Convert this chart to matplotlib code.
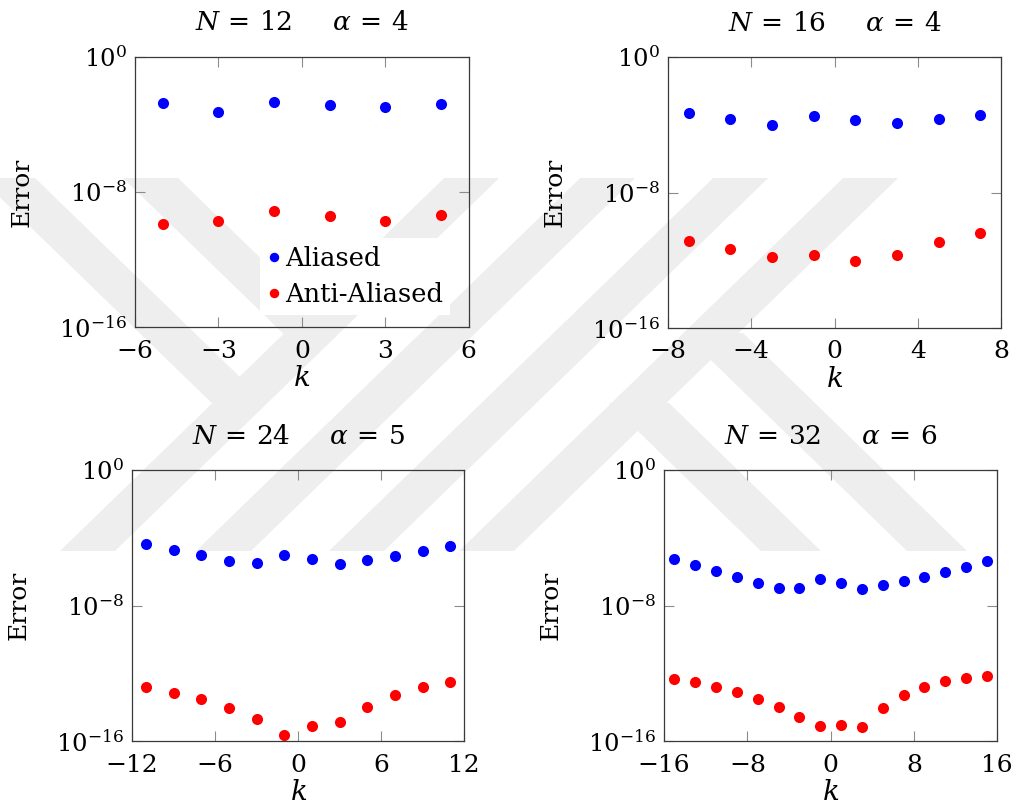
import matplotlib
matplotlib.use("Agg")
import matplotlib.pyplot as plt
from matplotlib.patches import Polygon
from matplotlib.ticker import LogFormatterSciNotation, NullLocator

# ---------------- data ----------------
k12 = [-5, -3, -1, 1, 3, 5]
alias12 = [1.9e-3, 5.1e-4, 2.2e-3, 1.4e-3, 1.1e-3, 1.7e-3]
anti12 = [1.2e-10, 1.9e-10, 7.9e-10, 4.0e-10, 1.9e-10, 4.2e-10]

k16 = [-7, -5, -3, -1, 1, 3, 5, 7]
alias16 = [4.7e-4, 2.1e-4, 9.1e-5, 3.2e-4, 1.9e-4, 1.2e-4, 2.1e-4, 3.9e-4]
anti16 = [1.35e-11, 4.6e-12, 1.5e-12, 1.95e-12, 9.3e-13, 1.95e-12, 1.2e-11, 4.1e-11]

k24 = [-11, -9, -7, -5, -3, -1, 1, 3, 5, 7, 9, 11]
alias24 = [4.3e-5, 2.0e-5, 9.1e-6, 4.5e-6, 3.2e-6, 1.0e-5, 5.5e-6, 2.8e-6, 5.0e-6, 8.3e-6, 1.7e-5, 3.4e-5]
anti24 = [1.5e-13, 7.1e-14, 2.9e-14, 9.5e-15, 2.1e-15, 2.2e-16, 7.6e-16, 1.26e-15, 1.0e-14, 5.1e-14, 1.5e-13, 2.9e-13]

k32 = [-15, -13, -11, -9, -7, -5, -3, -1, 1, 3, 5, 7, 9, 11, 13, 15]
alias32 = [5.2e-6, 2.3e-6, 1.1e-6, 5.0e-7, 2.1e-7, 1.07e-7, 1.12e-7, 3.8e-7,
           2.0e-7, 9.3e-8, 1.7e-7, 2.7e-7, 4.6e-7, 9.1e-7, 2.0e-6, 4.5e-6]
anti32 = [4.4e-13, 2.9e-13, 1.55e-13, 7.8e-14, 3.2e-14, 1.05e-14, 2.5e-15, 7.6e-16,
          8.7e-16, 6.6e-16, 9.1e-15, 5.1e-14, 1.6e-13, 3.5e-13, 5.5e-13, 6.5e-13]

titles = [r"$N\,=\,12\quad\;\ \alpha\,=\,4$", r"$N\,=\,16\quad\;\ \alpha\,=\,4$",
          r"$N\,=\,24\quad\;\ \alpha\,=\,5$", r"$N\,=\,32\quad\;\ \alpha\,=\,6$"]
xticks_list = [[-6, -3, 0, 3, 6], [-8, -4, 0, 4, 8], [-12, -6, 0, 6, 12], [-16, -8, 0, 8, 16]]
yticks = [1e-16, 1e-8, 1e0]
series = [(k12, alias12, anti12), (k16, alias16, anti16),
          (k24, alias24, anti24), (k32, alias32, anti32)]
legend_labels = ["Aliased", "Anti-Aliased"]

# ---------------- style ----------------
plt.rcParams["font.family"] = ["DejaVu Serif"]
plt.rcParams["mathtext.fontset"] = "dejavuserif"
plt.rcParams["axes.unicode_minus"] = True

W, H = 1016, 808
fig = plt.figure(figsize=(W / 100, H / 100), dpi=100)
fig.patch.set_facecolor("white")

# ---------------- watermark (background) ----------------
s = 1.03
wm_color = "#eeeeee"
polys = []
for x0 in [60, 196, 329, 459]:
    w = 55
    polys.append([(x0, 551), (x0 + w, 551), (x0 + w + 373 * s, 178), (x0 + 373 * s, 178)])
polys.append([(-20, 178), (35, 178), (35 + 225 * s, 403), (-20 + 225 * s, 403)])
polys.append([(123, 178), (178, 178), (178 + 156 * s, 334), (123 + 156 * s, 334)])
polys.append([(609, 403), (669, 403), (821, 551), (761, 551)])
polys.append([(683, 333), (743, 333), (967, 551), (907, 551)])
for p in polys:
    pts = [(x / W, 1 - y / H) for x, y in p]
    fig.add_artist(Polygon(pts, closed=True, facecolor=wm_color, edgecolor="none",
                           zorder=-5, transform=fig.transFigure))

# ---------------- axes ----------------
boxes = [(135, 468.7, 56.7, 327.3), (668, 1001, 57, 328),
         (132, 464.3, 470, 741), (664, 997.3, 470, 741)]

for i, ((l, r, t, b), (kk, a, aa), ttl, xt) in enumerate(zip(boxes, series, titles, xticks_list)):
    ax = fig.add_axes([l / W, 1 - b / H, (r - l) / W, (b - t) / H])
    ax.patch.set_alpha(0)
    ax.set_yscale("log")
    ax.plot(kk, a, "o", color="#0000ff", ms=8, mec="none", label=legend_labels[0], zorder=3)
    ax.plot(kk, aa, "o", color="#ff0000", ms=8, mec="none", label=legend_labels[1], zorder=3)
    ax.set_xlim(xt[0], xt[-1])
    ax.set_ylim(yticks[0], yticks[-1])
    ax.set_xticks(xt)
    ax.set_yticks(yticks)
    ax.yaxis.set_major_formatter(LogFormatterSciNotation())
    ax.yaxis.set_minor_locator(NullLocator())
    ax.tick_params(axis="both", which="major", direction="in", length=7, width=0.8,
                   color="#8c8c8c", labelsize=18, top=True, right=True, labelcolor="black")
    ax.tick_params(axis="x", pad=9)
    ax.tick_params(axis="y", pad=6, labelsize=17.5)
    for sp in ax.spines.values():
        sp.set_color("#3a3a3a")
        sp.set_linewidth(0.9)
    ax.set_title(ttl, fontsize=19, pad=19)
    ax.set_xlabel(r"$k$", fontsize=20)
    ax.set_ylabel("Error", fontsize=18)
    ax.xaxis.set_label_coords(0.5, -0.14)
    ax.yaxis.set_label_coords(-0.305, 0.5)
    if i == 0:
        leg = ax.legend(loc="lower right", bbox_to_anchor=(0.945, 0.045), fontsize=18.5,
                        handlelength=0.45, handletextpad=0.2, borderpad=0.3,
                        labelspacing=0.45, markerscale=0.85, frameon=True,
                        fancybox=False, borderaxespad=0)
        leg.get_frame().set_edgecolor("none")
        leg.get_frame().set_facecolor("white")
        leg.get_frame().set_alpha(1)

fig.savefig("out.png", dpi=100, facecolor="white")
